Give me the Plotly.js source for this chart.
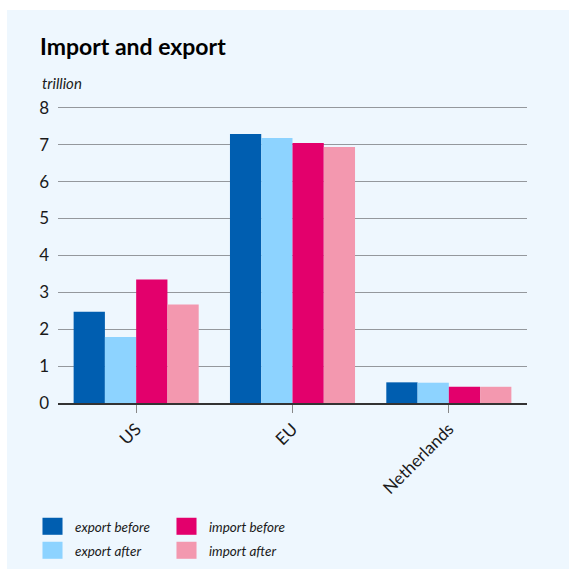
<!DOCTYPE html>
<html>
<head>
<meta charset="utf-8">
<script src="https://cdn.plot.ly/plotly-3.0.1.min.js"></script>
<style>html,body{margin:0;padding:0;background:#fff;}#chart{width:569px;height:569px;}</style>
</head>
<body>
<div id="chart"></div>
<script>
const categories = ["US", "EU", "Netherlands"];
const exportBefore = [2.47, 7.29, 0.56];
const exportAfter = [1.79, 7.18, 0.55];
const importBefore = [3.35, 7.05, 0.44];
const importAfter = [2.67, 6.94, 0.44];
const seriesNames = ["export before", "export after", "import before", "import after"];
const yTicks = [0, 1, 2, 3, 4, 5, 6, 7, 8];

const colors = ["#005EB0", "#8DD3FF", "#E3006C", "#F398AF"];
const ranks = [1, 3, 2, 4];
const values = [exportBefore, exportAfter, importBefore, importAfter];

const FONT = "Lato, 'Open Sans', sans-serif";
const W = 569, H = 569, ML = 58, MR = 42, MT = 106, MB = 166;
const PW = W - ML - MR, PH = H - MT - MB;
const px = v => (v - ML) / PW;          // page x -> paper x
const py = v => (H - MB - v) / PH;      // page y -> paper y

const traces = values.map((v, i) => ({
  type: "bar",
  x: categories,
  y: v,
  name: seriesNames[i],
  legendrank: ranks[i],
  marker: { color: colors[i], line: { width: 0 } },
  hoverinfo: "skip"
}));

const layout = {
  width: W,
  height: H,
  margin: { l: ML, r: MR, t: MT, b: MB, autoexpand: false },
  paper_bgcolor: "#EEF7FE",
  plot_bgcolor: "rgba(0,0,0,0)",
  barmode: "group",
  bargap: 0.2,
  bargroupgap: 0,
  font: { family: FONT, color: "#1a1a1a", size: 15 },
  title: {
    text: "<b>Import and export</b>",
    font: { family: FONT, size: 23, color: "#000" },
    x: 40 / W, xref: "container", xanchor: "left",
    y: 1 - 47 / H, yanchor: "middle", yref: "container"
  },
  shapes: [
    { type: "rect", xref: "paper", yref: "paper", layer: "below",
      x0: px(0), x1: px(7), y0: py(H), y1: py(0), fillcolor: "#ffffff", line: { width: 0 } },
    { type: "rect", xref: "paper", yref: "paper", layer: "below",
      x0: px(0), x1: px(W), y0: py(10), y1: py(0), fillcolor: "#ffffff", line: { width: 0 } }
  ],
  annotations: [{
    text: "<i>trillion</i>", xref: "paper", yref: "paper",
    x: px(40), y: py(83), xanchor: "left", yanchor: "middle",
    showarrow: false, font: { family: FONT, size: 15, color: "#1a1a1a" }
  }],
  xaxis: {
    type: "category",
    tickangle: -45,
    ticks: "outside", ticklen: 8, tickcolor: "#888", tickwidth: 1,
    showline: true, linecolor: "#333", linewidth: 1.5,
    showgrid: false, zeroline: false,
    tickfont: { family: FONT, size: 17, color: "#1a1a1a" },
    fixedrange: true
  },
  yaxis: {
    range: [0, 8.05],
    tickvals: yTicks,
    ticktext: yTicks.map(String),
    showgrid: true, gridcolor: "#94989d", gridwidth: 1,
    zeroline: false, showline: false,
    ticks: "", ticklabelstandoff: 8,
    tickfont: { family: FONT, size: 17, color: "#1a1a1a" },
    fixedrange: true
  },
  showlegend: true,
  legend: {
    orientation: "h",
    xref: "paper", x: px(30), xanchor: "left",
    yref: "container", y: 1 - 511 / H, yanchor: "top",
    traceorder: "normal",
    itemwidth: 35,
    entrywidth: 84,
    entrywidthmode: "pixels",
    font: { family: FONT, size: 13.5, color: "#1a1a1a" },
    bgcolor: "rgba(0,0,0,0)",
    itemclick: false, itemdoubleclick: false
  }
};

Plotly.newPlot("chart", traces, layout, { displayModeBar: false, staticPlot: true }).then(function (gd) {
  gd.querySelectorAll(".legend .legendtext").forEach(function (t) { t.style.fontStyle = "italic"; });
  gd.querySelectorAll(".legend .legendpoints path").forEach(function (p) {
    const tr = p.getAttribute("transform") || "";
    p.setAttribute("transform", tr + " scale(1.67,1.42)");
  });
  // widen the gap between the two legend rows
  const items = Array.from(gd.querySelectorAll(".legend .traces"));
  const pos = items.map(function (g) {
    const m = /translate\(\s*([-\d.]+)[ ,]+([-\d.]+)\s*\)/.exec(g.getAttribute("transform") || "");
    return m ? [parseFloat(m[1]), parseFloat(m[2])] : [0, 0];
  });
  const ys = pos.map(p => p[1]);
  const y0 = Math.min.apply(null, ys);
  items.forEach(function (g, i) {
    if (pos[i][1] > y0 + 1) {
      g.setAttribute("transform", "translate(" + pos[i][0] + "," + (y0 + 24) + ")");
    }
  });
});
</script>
</body>
</html>
